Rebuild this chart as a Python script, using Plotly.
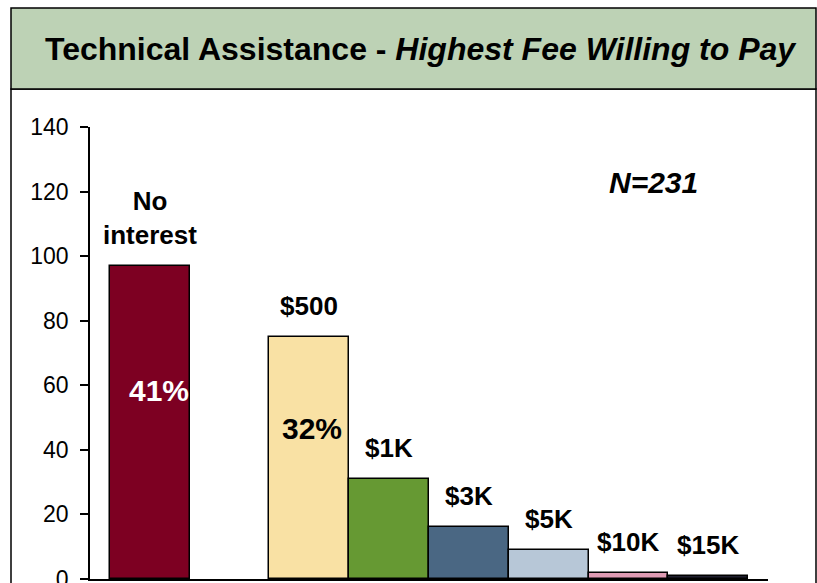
import plotly.graph_objects as go

# ---- data ----
categories = ["No interest", "$500", "$1K", "$3K", "$5K", "$10K", "$15K"]
label_texts = ["No<br>interest", "$500", "$1K", "$3K", "$5K", "$10K", "$15K"]
counts = [97, 75, 31, 16, 9, 2, 1]
bar_colors = ["#7D0022", "#F9E1A4", "#669933", "#4A6783", "#B7C7D7", "#E09BB4", "#1E1E2E"]
pct_labels = ["41%", "32%"]
y_ticks = [0, 20, 40, 60, 80, 100, 120, 140]
sample_note = "N=231"
title_main = "Technical Assistance - "
title_italic = "Highest Fee Willing to Pay"

# category slots: an empty slot sits between "No interest" and the fee levels
x_pos = [i + (1 if i > 0 else 0) for i in range(len(categories))]

W, H = 817, 583
L, R, T, B = 90, 768, 127, 579  # plot area in pixels


def px_to_paper(px, py):
    """pixel -> paper coordinates"""
    return (px - L) / (R - L), (B - py) / (B - T)


FONT = "Liberation Sans, Arial, sans-serif"

fig = go.Figure()
fig.add_trace(go.Bar(
    x=x_pos, y=counts, width=1.0,
    marker=dict(color=bar_colors, line=dict(color="black", width=1.5)),
    hovertext=categories, showlegend=False,
))

annotations = []
for xp, v, t in zip(x_pos, counts, label_texts):
    annotations.append(dict(
        x=xp, y=v, xref="x", yref="y", text="<b>" + t + "</b>",
        showarrow=False, yanchor="bottom", yshift=14,
        font=dict(family=FONT, size=26, color="black"),
    ))

# percentage labels inside the two tallest bars
annotations.append(dict(x=x_pos[0], y=58.5, xref="x", yref="y",
                        text="<b>" + pct_labels[0] + "</b>", showarrow=False,
                        xshift=9, font=dict(family=FONT, size=30, color="white")))
annotations.append(dict(x=x_pos[1], y=46.5, xref="x", yref="y",
                        text="<b>" + pct_labels[1] + "</b>", showarrow=False,
                        xshift=3, font=dict(family=FONT, size=30, color="black")))

nx, ny = px_to_paper(653, 182)
annotations.append(dict(x=nx, y=ny, xref="paper", yref="paper",
                        xanchor="center", yanchor="middle",
                        text="<b><i>" + sample_note + "</i></b>", showarrow=False,
                        font=dict(family=FONT, size=30, color="black")))

tx, ty = px_to_paper(421, 49)
annotations.append(dict(x=tx, y=ty, xref="paper", yref="paper",
                        xanchor="center", yanchor="middle",
                        text="<b>" + title_main + "<i>" + title_italic + "</i></b>",
                        showarrow=False,
                        font=dict(family=FONT, size=32, color="black")))

# frame shapes
x0, y_top = px_to_paper(11, 8)
x1, y_mid = px_to_paper(816, 89)
_, y_bot = px_to_paper(11, 640)
shapes = [
    dict(type="rect", xref="paper", yref="paper", x0=x0, x1=x1, y0=y_bot, y1=y_mid,
         line=dict(color="black", width=1.5), fillcolor="white", layer="below"),
    dict(type="rect", xref="paper", yref="paper", x0=x0, x1=x1, y0=y_mid, y1=y_top,
         line=dict(color="black", width=1.5), fillcolor="#BDD2B5", layer="below"),
]

fig.update_layout(
    width=W, height=H,
    margin=dict(l=L, r=W - R, t=T, b=H - B, pad=0, autoexpand=False),
    paper_bgcolor="white", plot_bgcolor="rgba(0,0,0,0)",
    bargap=0,
    shapes=shapes,
    annotations=annotations,
    xaxis=dict(range=[-0.75, max(x_pos) + 0.75], showticklabels=False, ticks="",
               showgrid=False, zeroline=False, showline=True, automargin=False,
               linecolor="black", linewidth=1.5, fixedrange=True),
    yaxis=dict(range=[0, 140], tickvals=y_ticks, ticks="outside", ticklen=8,
               tickwidth=1.5, tickcolor="black", showgrid=False, zeroline=False,
               showline=True, linecolor="black", linewidth=1.5, automargin=False,
               ticklabelstandoff=7, ticklabeloverflow="allow",
               tickfont=dict(family=FONT, size=23, color="black"), fixedrange=True),
)

fig.write_html(
    "out.html",
    config={"displayModeBar": False},
    post_script=("document.documentElement.style.margin='0';"
                 "document.documentElement.style.overflow='hidden';"
                 "document.body.style.margin='0';"
                 "document.body.style.overflow='hidden';"),
)
